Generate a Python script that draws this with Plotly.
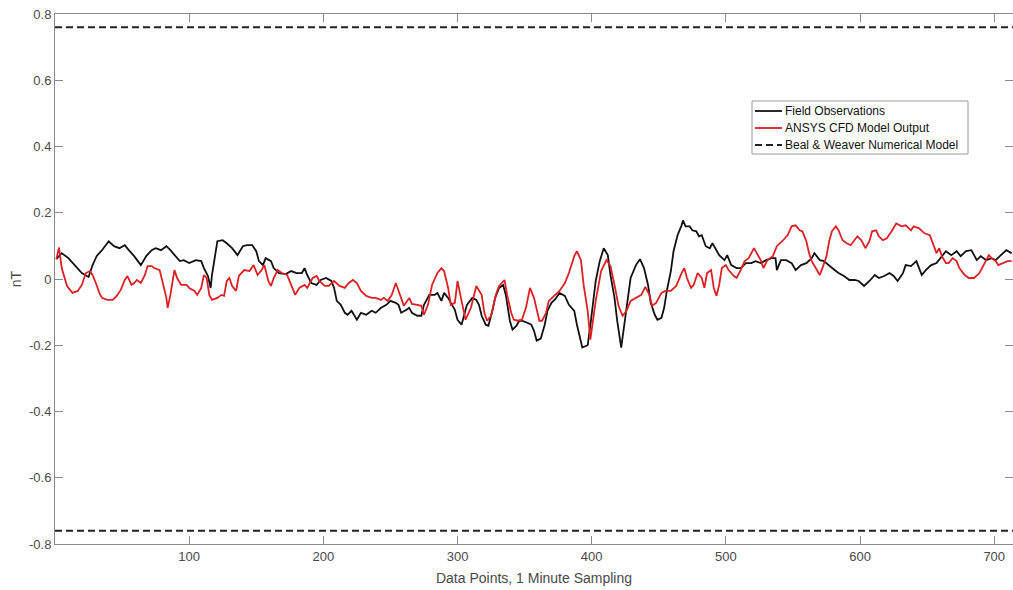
import plotly.graph_objects as go

# Field observations (nT) at 1-minute sample indices
field_x = [1, 5, 10, 15, 20, 25, 28, 31, 35, 40, 44, 48, 52, 55, 59, 64, 68, 72, 75, 79,
           83, 86, 89, 93, 96, 100, 105, 109, 111, 114, 116, 117, 119, 121, 125, 128, 132, 136, 140, 143,
           147, 150, 152, 155, 157, 161, 163, 167, 172, 176, 180, 184, 186, 188, 191, 195, 198, 202, 206, 208,
           210, 213, 216, 218, 221, 223, 225, 228, 232, 236, 239, 243, 247, 250, 254, 256, 258, 262, 264, 266,
           270, 273, 275, 279, 283, 285, 288, 290, 293, 295, 298, 300, 303, 305, 307, 311, 314, 316, 318, 321,
           323, 326, 328, 331, 334, 336, 339, 341, 344, 346, 348, 352, 355, 357, 359, 362, 365, 367, 370, 373,
           376, 380, 383, 387, 389, 393, 397, 399, 403, 406, 409, 412, 414, 417, 419, 422, 425, 427, 429, 433,
           436, 439, 442, 444, 447, 449, 452, 454, 456, 459, 461, 464, 467, 468, 470, 473, 475, 478, 480, 482,
           485, 488, 490, 493, 495, 499, 501, 504, 508, 511, 515, 519, 522, 526, 530, 534, 537, 538, 541, 545,
           549, 552, 556, 560, 564, 566, 570, 573, 577, 581, 584, 588, 592, 596, 599, 603, 607, 611, 614, 618,
           622, 625, 628, 632, 634, 638, 642, 646, 649, 653, 657, 660, 664, 668, 672, 675, 679, 683, 687, 690,
           694, 698, 701, 705, 709, 713]
field_nT = [0.060, 0.078, 0.063, 0.039, 0.018, 0.006, 0.042, 0.069, 0.087, 0.114, 0.099, 0.093, 0.102, 0.087, 0.069, 0.042, 0.069, 0.087, 0.093, 0.087,
            0.099, 0.087, 0.072, 0.054, 0.057, 0.048, 0.057, 0.054, 0.033, 0.009, -0.027, 0.012, 0.063, 0.114, 0.117, 0.108, 0.093, 0.072, 0.099, 0.102,
            0.102, 0.084, 0.054, 0.042, 0.063, 0.054, 0.033, 0.018, 0.015, 0.024, 0.018, 0.018, 0.033, 0.012, -0.012, -0.018, -0.003, 0.003, -0.006, -0.027,
            -0.066, -0.078, -0.102, -0.108, -0.096, -0.108, -0.123, -0.102, -0.108, -0.096, -0.102, -0.087, -0.078, -0.066, -0.072, -0.078, -0.102, -0.093, -0.087, -0.102,
            -0.111, -0.111, -0.078, -0.048, -0.048, -0.042, -0.066, -0.042, -0.057, -0.072, -0.093, -0.123, -0.138, -0.108, -0.078, -0.057, -0.063, -0.078, -0.111, -0.138,
            -0.141, -0.096, -0.057, -0.027, -0.018, -0.048, -0.126, -0.153, -0.141, -0.126, -0.126, -0.132, -0.138, -0.156, -0.186, -0.180, -0.138, -0.096, -0.072, -0.060,
            -0.042, -0.051, -0.078, -0.096, -0.138, -0.207, -0.200, -0.140, -0.006, 0.054, 0.093, 0.072, 0.012, -0.057, -0.126, -0.207, -0.126, -0.057, 0.003, 0.042,
            0.060, 0.033, -0.018, -0.072, -0.108, -0.123, -0.117, -0.087, -0.036, 0.024, 0.084, 0.132, 0.162, 0.177, 0.159, 0.159, 0.147, 0.144, 0.129, 0.132,
            0.099, 0.093, 0.108, 0.087, 0.072, 0.057, 0.072, 0.042, 0.033, 0.033, 0.048, 0.048, 0.054, 0.048, 0.057, 0.063, 0.063, 0.027, 0.057, 0.057,
            0.048, 0.027, 0.042, 0.048, 0.063, 0.078, 0.057, 0.054, 0.039, 0.027, 0.018, 0.009, -0.003, -0.003, -0.006, -0.021, -0.006, 0.012, 0.003, 0.009,
            0.018, 0.009, -0.006, 0.018, 0.042, 0.039, 0.054, 0.012, 0.027, 0.042, 0.048, 0.063, 0.084, 0.072, 0.084, 0.069, 0.084, 0.087, 0.057, 0.069,
            0.057, 0.063, 0.057, 0.072, 0.087, 0.078]

# ANSYS CFD model output (nT)
cfd_x = [1, 3, 5, 9, 13, 17, 20, 23, 26, 28, 31, 33, 35, 39, 43, 46, 49, 52, 54, 57,
         59, 61, 64, 67, 69, 72, 74, 78, 80, 83, 84, 86, 89, 91, 94, 98, 100, 104, 106, 109,
         111, 113, 115, 117, 121, 124, 126, 128, 130, 132, 135, 137, 141, 145, 148, 151, 154, 156, 159, 161,
         163, 166, 169, 173, 176, 179, 182, 186, 188, 192, 195, 197, 201, 204, 208, 212, 216, 219, 222, 225,
         228, 232, 236, 239, 243, 245, 248, 251, 254, 258, 260, 264, 266, 270, 273, 275, 278, 281, 285, 288,
         290, 293, 295, 298, 300, 303, 306, 310, 314, 318, 320, 322, 325, 329, 331, 335, 337, 340, 342, 345,
         348, 351, 354, 357, 359, 361, 363, 366, 368, 372, 376, 380, 383, 387, 389, 392, 394, 397, 399, 403,
         407, 411, 414, 417, 420, 423, 426, 429, 433, 437, 440, 443, 445, 448, 452, 455, 459, 463, 467, 469,
         471, 474, 476, 479, 482, 484, 486, 489, 491, 493, 495, 497, 500, 502, 506, 508, 511, 514, 517, 521,
         523, 526, 528, 531, 535, 538, 542, 546, 549, 552, 555, 557, 560, 562, 564, 567, 570, 572, 575, 577,
         579, 582, 584, 587, 590, 593, 596, 598, 601, 604, 607, 609, 612, 614, 617, 620, 624, 627, 631, 634,
         638, 640, 644, 648, 652, 654, 657, 659, 661, 664, 666, 669, 672, 674, 678, 681, 685, 689, 693, 696,
         698, 701, 703, 706, 710, 713]
cfd_nT = [0.060, 0.095, 0.033, -0.021, -0.042, -0.036, -0.018, 0.018, 0.024, 0.012, -0.018, -0.042, -0.057, -0.063, -0.063, -0.051, -0.033, -0.003, 0.009, -0.018,
          -0.012, -0.003, -0.012, 0.012, 0.039, 0.039, 0.033, 0.027, -0.006, -0.057, -0.087, -0.048, 0.027, 0.003, -0.018, -0.018, -0.027, -0.036, -0.048, -0.027,
          0.012, 0.003, -0.048, -0.063, -0.057, -0.048, -0.051, -0.006, 0.003, -0.021, -0.036, 0.009, 0.027, 0.024, 0.042, 0.012, 0.027, 0.042, -0.006, -0.021,
          0.003, 0.027, 0.018, 0.012, -0.018, -0.048, -0.027, -0.018, -0.027, 0.003, 0.009, -0.006, -0.021, -0.021, -0.006, -0.021, -0.027, -0.012, -0.003, -0.012,
          -0.036, -0.051, -0.057, -0.057, -0.063, -0.057, -0.066, -0.048, -0.012, -0.057, -0.081, -0.057, -0.075, -0.078, -0.081, -0.108, -0.078, -0.018, 0.018, 0.033,
          0.024, -0.027, -0.078, -0.072, -0.006, -0.066, -0.123, -0.087, -0.021, -0.048, -0.102, -0.126, -0.111, -0.042, -0.021, -0.003, -0.048, -0.102, -0.123, -0.126,
          -0.123, -0.087, -0.027, -0.057, -0.096, -0.126, -0.126, -0.102, -0.066, -0.051, -0.036, -0.012, 0.018, 0.069, 0.084, 0.057, -0.018, -0.096, -0.183, -0.066,
          0.024, 0.057, 0.039, -0.018, -0.081, -0.111, -0.096, -0.066, -0.057, -0.048, -0.024, -0.048, -0.081, -0.072, -0.042, -0.036, -0.036, -0.021, 0.018, 0.033,
          0.003, -0.027, -0.018, 0.018, 0.003, -0.027, 0.018, 0.027, -0.027, -0.051, -0.018, 0.033, 0.042, 0.027, 0.009, 0.003, 0.027, 0.054, 0.063, 0.093,
          0.078, 0.057, 0.033, 0.057, 0.069, 0.099, 0.114, 0.132, 0.159, 0.162, 0.147, 0.144, 0.114, 0.078, 0.054, 0.033, 0.012, 0.033, 0.069, 0.114,
          0.144, 0.159, 0.147, 0.117, 0.108, 0.102, 0.117, 0.129, 0.117, 0.093, 0.114, 0.144, 0.147, 0.129, 0.117, 0.123, 0.147, 0.168, 0.159, 0.162,
          0.147, 0.159, 0.153, 0.138, 0.132, 0.108, 0.078, 0.093, 0.069, 0.048, 0.048, 0.063, 0.054, 0.033, 0.012, 0.003, 0.003, 0.018, 0.048, 0.072,
          0.063, 0.054, 0.042, 0.048, 0.054, 0.054]

# Beal & Weaver numerical model bounds (nT)
bw_x = [0, 714]
bw_upper = 0.76
bw_lower = -0.76

x_ticks = [100, 200, 300, 400, 500, 600, 700]
y_ticks = [-0.8, -0.6, -0.4, -0.2, 0, 0.2, 0.4, 0.6, 0.8]
y_tick_text = ["-0.8", "-0.6", "-0.4", "-0.2", "0", "0.2", "0.4", "0.6", "0.8"]

AXIS_GRAY = "#8a8a8a"
TEXT_GRAY = "#4a4a4a"
FONT = "Liberation Sans, Arial, sans-serif"

BLACK = "#111111"
RED = "#dd2025"
DASH_COLOR = "#222222"
DASH = "7px,4px"

series_names = ["Field Observations", "ANSYS CFD Model Output", "Beal & Weaver Numerical Model"]
series_styles = [
    dict(color=BLACK, width=1.8),
    dict(color=RED, width=1.8),
    dict(color=DASH_COLOR, width=2, dash=DASH),
]

fig = go.Figure()

fig.add_trace(go.Scatter(x=field_x, y=field_nT, mode="lines", name=series_names[0],
                         line=series_styles[0]))
fig.add_trace(go.Scatter(x=cfd_x, y=cfd_nT, mode="lines", name=series_names[1],
                         line=series_styles[1]))
fig.add_trace(go.Scatter(
    x=bw_x + [None] + bw_x,
    y=[bw_upper, bw_upper, None, bw_lower, bw_lower],
    mode="lines", name=series_names[2], line=series_styles[2], connectgaps=False,
))

axis_common = dict(
    showgrid=False, zeroline=False, showline=True, linecolor=AXIS_GRAY, linewidth=1,
    mirror="ticks", ticks="inside", ticklen=8, tickcolor=AXIS_GRAY, tickwidth=1,
    tickfont=dict(family=FONT, size=13, color=TEXT_GRAY),
)

fig.update_xaxes(
    range=[0, 714], tickvals=x_ticks,
    title=dict(text="Data Points, 1 Minute Sampling", font=dict(family=FONT, size=14, color=TEXT_GRAY), standoff=10),
    **axis_common,
)
fig.update_yaxes(
    range=[-0.8, 0.8], tickvals=y_ticks, ticktext=y_tick_text,
    title=dict(text="nT", font=dict(family=FONT, size=14, color=TEXT_GRAY), standoff=4),
    **axis_common,
)

# Boxed legend in the upper right of the axes (paper coordinates)
W, H = 1013, 590
ML, MR, MT, MB = 55, 0, 14, 46
PW, PH = W - ML - MR, H - MT - MB


def px_to_paper(px, py):
    return (px - ML) / PW, (H - MB - py) / PH


box_x0, box_y1 = px_to_paper(752, 101)
box_x1, box_y0 = px_to_paper(968, 154)
shapes = [dict(type="rect", xref="paper", yref="paper", x0=box_x0, x1=box_x1, y0=box_y0, y1=box_y1,
               line=dict(color="#9a9a9a", width=1), fillcolor="white", layer="above")]
annotations = []
row_py = [111, 128, 145]
for name, style, py in zip(series_names, series_styles, row_py):
    lx0, ly = px_to_paper(755, py)
    lx1, _ = px_to_paper(782, py)
    tx, _ = px_to_paper(783, py)
    shapes.append(dict(type="line", xref="paper", yref="paper", x0=lx0, x1=lx1, y0=ly, y1=ly,
                       line=dict(color=style["color"], width=style["width"], dash=style.get("dash", "solid")),
                       layer="above"))
    annotations.append(dict(xref="paper", yref="paper", x=tx, y=ly, text=name, showarrow=False,
                            xanchor="left", yanchor="middle",
                            font=dict(family=FONT, size=12, color="#111111")))

fig.update_layout(
    width=W, height=H,
    margin=dict(l=ML, r=MR, t=MT, b=MB),
    plot_bgcolor="white", paper_bgcolor="white",
    showlegend=False,
    shapes=shapes, annotations=annotations,
)

fig.write_html("out.html")
